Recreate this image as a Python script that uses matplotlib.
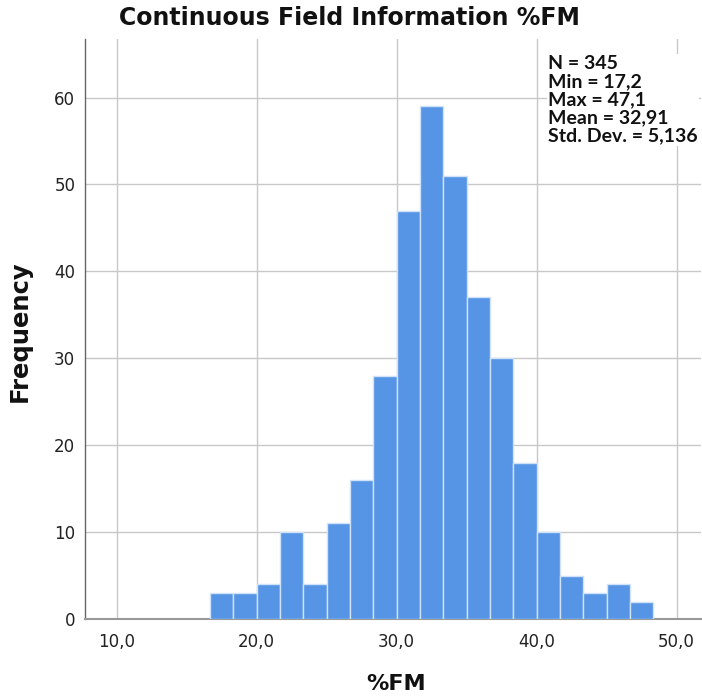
import matplotlib
matplotlib.use("Agg")
import matplotlib.pyplot as plt
import numpy as np

# Data
counts = [3, 3, 4, 10, 4, 11, 16, 28, 47, 59, 51, 37, 30, 18, 10, 5, 3, 4, 2]
bin_start = 16.6667
bin_width = 5.0 / 3.0
x_ticks = [10, 20, 30, 40, 50]
x_tick_labels = ["10,0", "20,0", "30,0", "40,0", "50,0"]
y_ticks = [0, 10, 20, 30, 40, 50, 60]
stats_lines = ["N = 345", "Min = 17,2", "Max = 47,1", "Mean = 32,91", "Std. Dev. = 5,136"]
title = "Continuous Field Information %FM"
xlabel = "%FM"
ylabel = "Frequency"

bin_lefts = bin_start + bin_width * np.arange(len(counts))

W, H = 702, 698
fig = plt.figure(figsize=(W / 100, H / 100), dpi=100)
ax = fig.add_axes([85 / W, 1 - 619 / H, (701 - 85) / W, (619 - 39) / H])

ax.bar(bin_lefts, counts, width=bin_width, align="edge",
       color="#5694E6", edgecolor="#d0e2f7", linewidth=1.0, zorder=3)

ax.set_xlim(7.74, 51.74)
ax.set_ylim(0, 66.74)
ax.set_xticks(x_ticks)
ax.set_xticklabels(x_tick_labels)
ax.set_yticks(y_ticks)
ax.tick_params(axis="both", length=0, labelsize=12, colors="#222222")
ax.tick_params(axis="x", pad=10)
ax.tick_params(axis="y", pad=7)

ax.grid(True, color="#c8c8c8", linewidth=1.0, zorder=0)
ax.set_axisbelow(True)
for s in ["top", "right"]:
    ax.spines[s].set_visible(False)
ax.spines["left"].set_color("#666666")
ax.spines["bottom"].set_color("#999999")
ax.spines["left"].set_linewidth(1.0)
ax.spines["bottom"].set_linewidth(1.5)

fig.text(349 / W, 1 - 18 / H, title, ha="center", va="center",
         fontsize=17, fontweight="bold", color="#111111")
fig.text(396 / W, 1 - 684 / H, xlabel, ha="center", va="center",
         fontsize=16, fontweight="bold", color="#111111")
fig.text(20 / W, 1 - 331 / H, ylabel, ha="center", va="center", rotation=90,
         fontsize=17.5, fontweight="bold", color="#111111")

fig.text(548 / W, 1 - 55 / H, "\n".join(stats_lines), ha="left", va="top",
         fontsize=14, fontweight="bold", color="#111111", linespacing=1.08,
         family=["Lato", "DejaVu Sans"],
         bbox=dict(facecolor="white", edgecolor="none", pad=1.0))

fig.savefig("out.png", dpi=100)
